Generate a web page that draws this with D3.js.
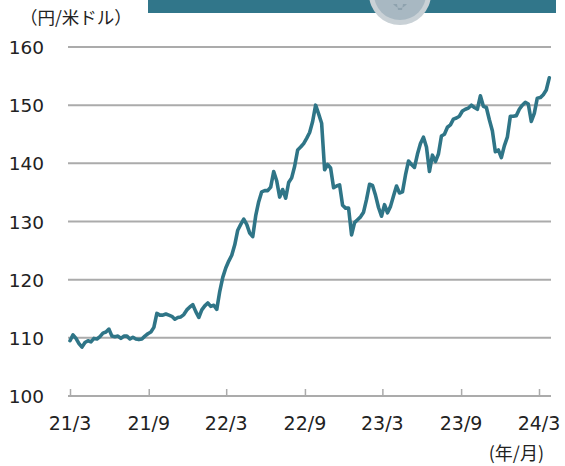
<!DOCTYPE html>
<html><head><meta charset="utf-8">
<script src="https://cdn.jsdelivr.net/npm/d3@7"></script>
<style>body{margin:0;background:#fff}svg{display:block}</style>
</head><body>
<script>
// Weekly USD/JPY values, starting the week of 2021-03-01
const startDate = "2021-03-01";
const values = [
109.5,110.5,109.9,109.0,108.4,109.2,109.5,109.3,109.9,109.8,
110.2,110.8,111.0,111.5,110.3,110.2,110.3,109.9,110.3,110.3,
109.8,110.1,109.8,109.7,109.8,110.3,110.7,111.0,111.8,114.2,
113.9,113.9,114.1,113.9,113.7,113.2,113.5,113.6,114.0,114.8,
115.3,115.7,114.5,113.5,114.8,115.5,116.0,115.4,115.6,114.9,
118.0,120.4,122.0,123.2,124.2,126.0,128.5,129.5,130.4,129.5,
128.0,127.4,131.0,133.4,135.1,135.3,135.3,135.9,138.6,137.0,
134.2,135.5,134.0,136.7,137.5,139.5,142.3,142.8,143.4,144.3,
145.3,147.2,150.0,148.5,146.9,138.9,139.8,139.2,135.8,136.1,
136.3,132.8,132.3,132.3,127.7,129.8,130.3,130.8,131.6,133.8,
136.4,136.2,134.5,132.4,130.9,132.9,131.5,132.6,134.4,136.1,
134.9,135.1,138.0,140.4,139.8,139.3,141.6,143.4,144.5,142.8,
138.6,141.4,140.3,141.6,144.7,145.0,146.2,146.6,147.6,147.8,
148.1,149.0,149.3,149.5,150.0,149.6,149.3,151.6,149.8,149.6,
147.5,145.6,142.0,142.3,141.0,143.0,144.5,148.1,148.1,148.2,
149.3,150.0,150.5,150.2,147.2,148.6,151.2,151.3,151.8,152.6,
154.7
];
const xTickDates = ["2021-03-01","2021-09-01","2022-03-01","2022-09-01","2023-03-01","2023-09-01","2024-03-01"];
const xTickLabels = ["21/3","21/9","22/3","22/9","23/3","23/9","24/3"];
const yTicks = [100,110,120,130,140,150,160];
const yUnit = "（円/米ドル）";
const xUnit = "(年/月)";

const W = 565, H = 466;
const parse = d3.timeParse("%Y-%m-%d");
const start = parse(startDate);
const data = values.map((v,i)=>({date:d3.timeDay.offset(start, 7*i), value:v}));

const svg = d3.select("body").append("svg").attr("width",W).attr("height",H);

// header banner (cropped)
svg.append("rect").attr("x",148).attr("y",0).attr("width",408).attr("height",13).attr("fill","#31768a");
svg.append("circle").attr("cx",400).attr("cy",-6).attr("r",31).attr("fill","#c9d1d6");
svg.append("circle").attr("cx",400).attr("cy",-6).attr("r",26).attr("fill","#a8b8c2");
svg.append("path").attr("d","M393,4 Q400,12 407,4 L403,4 L402,10 L398,10 L397,4 Z").attr("fill","#8ea2ae");

const x = d3.scaleTime().domain([parse(xTickDates[0]), parse(xTickDates[6])]).range([70,539]);
const y = d3.scaleLinear().domain([100,160]).range([396,47]);
const gridX0 = 68, gridX1 = 551;
const font = "'DejaVu Sans', Verdana, sans-serif";

// gridlines
svg.append("g").selectAll("line").data(yTicks.filter(t=>t>100)).join("line")
  .attr("x1",gridX0).attr("x2",gridX1)
  .attr("y1",d=>y(d)).attr("y2",d=>y(d))
  .attr("stroke","#ababab").attr("stroke-width",2);

// x axis line + ticks
svg.append("line").attr("x1",gridX0).attr("x2",gridX1).attr("y1",y(100)).attr("y2",y(100))
  .attr("stroke","#ababab").attr("stroke-width",2);
const xAxis = d3.axisTop(x).tickValues(xTickDates.map(parse)).tickSize(8).tickFormat("");
const gx = svg.append("g").attr("transform",`translate(0,${y(100)+1})`).call(xAxis);
gx.select(".domain").remove();
gx.selectAll(".tick line").attr("stroke","#ababab").attr("stroke-width",1.5);

svg.append("g").selectAll("text").data(xTickDates).join("text")
  .attr("x",d=>x(parse(d))).attr("y",430)
  .attr("text-anchor","middle").attr("font-family",font).attr("font-size",19).attr("fill","#222")
  .text((d,i)=>xTickLabels[i]);

// y labels
svg.append("g").selectAll("text").data(yTicks).join("text")
  .attr("x",44).attr("y",d=>y(d)+7)
  .attr("text-anchor","end").attr("font-family",font).attr("font-size",18.5).attr("fill","#222")
  .text(d=>d);

// units
svg.append("text").attr("x",20).attr("y",24).attr("font-family","'Noto Sans CJK JP', sans-serif")
  .attr("font-size",17.5).attr("fill","#222").text(yUnit);
svg.append("text").attr("x",544).attr("y",460).attr("text-anchor","end").attr("font-family","'Noto Sans CJK JP', sans-serif")
  .attr("font-size",18).attr("fill","#222").text(xUnit);

// line
const line = d3.line().x(d=>x(d.date)).y(d=>y(d.value));
svg.append("path").datum(data).attr("d",line).attr("fill","none")
  .attr("stroke","#2f7587").attr("stroke-width",3.6).attr("stroke-linejoin","round").attr("stroke-linecap","round");
</script>
</body></html>
